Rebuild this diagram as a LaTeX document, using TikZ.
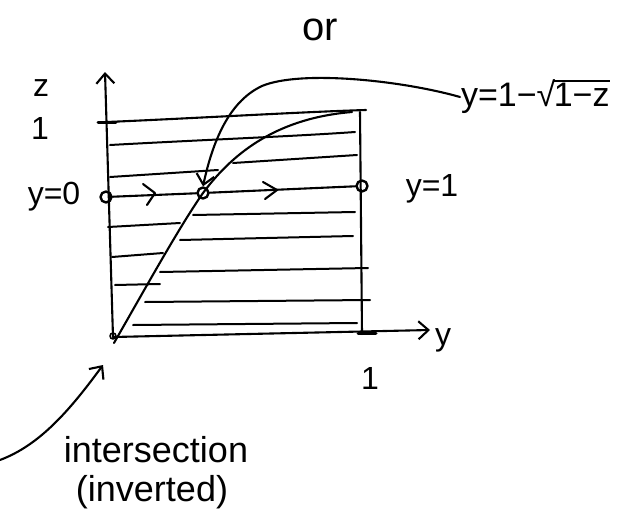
\documentclass[tikz,border=0pt]{standalone}
\usepackage{fontspec}
\setmainfont{Liberation Sans}
\usetikzlibrary{arrows.meta}
\begin{document}
\begin{tikzpicture}[x=1pt,y=-1pt, line width=2.1pt, line cap=round, line join=round,
  lbl/.style={inner sep=0pt, font=\fontsize{32}{34}\selectfont},
  word/.style={inner sep=0pt, font=\fontsize{36}{38}\selectfont},
  pt/.style={circle, draw, line width=2.4pt, minimum size=11pt, inner sep=0pt},
  hand/.style={-{Straight Barb[length=10pt,width=18pt,line width=2.1pt]}},
  hatch/.style={line width=2pt}]
\useasboundingbox (0,0) rectangle (634,519);

% axes
\coordinate (O) at (113,337);
\coordinate (ztop) at (105,72);
\coordinate (yend) at (430,330);
\draw[hand] (O) -- (ztop);
\draw[hand] (O) -- (yend);
\node[circle, draw, line width=1.6pt, minimum size=6pt, inner sep=0pt] (orig) at (113,336) {};

% ticks
\draw[line width=3pt] (98,122) -- (116,122);
\draw[line width=3pt] (358,333) -- (376,333);

% frame
\draw (107,122) .. controls (200,118) and (300,112) .. (366,110);
\draw (360,112) -- (362,334);

% curve y = 1 - sqrt(1-z)
\draw (114,343) .. controls (150,280) and (180,226) .. (203,193)
      .. controls (235,150) and (280,118) .. (352,112);

% hatch lines
\draw[hatch] (110,145) .. controls (200,140) and (300,136) .. (355,132);
\draw[hatch] (110,177) -- (218,170);
\draw[hatch] (233,163) -- (357,155);
\draw[hatch] (193,215) -- (355,212);
\draw[hatch] (108,227) -- (180,223);
\draw[hatch] (180,240) -- (353,236);
\draw[hatch] (112,257) -- (163,253);
\draw[hatch] (160,272) -- (368,268);
\draw[hatch] (115,285) -- (160,284);
\draw[hatch] (145,302) -- (370,300);
\draw[hatch] (133,325) -- (357,323);

% y = 0 line with points
\node[pt] (pA) at (106,197) {};
\node[pt] (pB) at (203,193) {};
\node[pt] (pC) at (362,186) {};
\draw (pA) -- (pB) -- (pC);
\draw (143,184) -- (155,193) -- (147,205);
\draw (263,182) -- (277,190) -- (265,199);

% labels
\node[lbl] (zl) at (41,88) {z};
\node[lbl] (one1) at (40,128) {1};
\node[lbl] (y0) at (54,197) {y=0};
\node[lbl] (y1) at (432,189) {y=1};
\node[lbl, anchor=west, font=\fontsize{34}{36}\selectfont] (f) at (460,97) {y=1−√\kern-1.5pt\vbox{\hrule height 1.6pt\kern1.5pt\hbox{1−z}}};
\node[lbl] (one2) at (370,378) {1};
\node[lbl] (yl) at (443,340) {y};
\node[word, font=\fontsize{40}{42}\selectfont] (or) at (320,30) {or};
\node[word] (int) at (156,450) {intersection};
\node[word] (inv) at (152,492) {(inverted)};

% pointer arrows
\draw[hand] (f.west) .. controls (400,80) and (300,70) .. (262,86)
      .. controls (232,100) and (214,135) .. (pB.north);
\coordinate (s0) at (0,460);
\coordinate (s1) at (103,365);
\draw[hand] (s0) .. controls (40,445) and (70,410) .. (s1);
\end{tikzpicture}
\end{document}
